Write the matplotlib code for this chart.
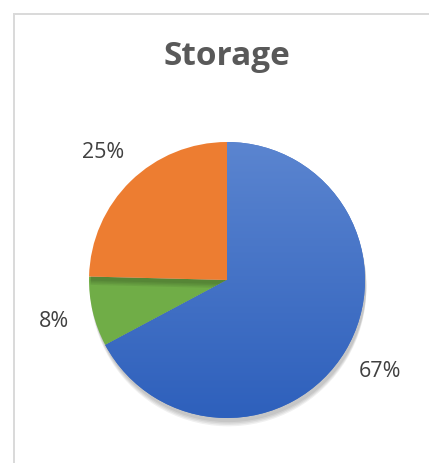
import numpy as np
import matplotlib
matplotlib.use("Agg")
import matplotlib.pyplot as plt
from matplotlib.patches import Rectangle
import matplotlib.patheffects as pe

title = "Storage"
categories = ["Blue", "Green", "Orange"]
values = [67.2, 8.2, 24.6]
colors = ["#4472C4", "#70AD47", "#ED7D31"]

W, H, DPI = 429, 463, 100
fig = plt.figure(figsize=(W / DPI, H / DPI), dpi=DPI)
fig.patch.set_facecolor("white")

# chart border (only left/top visible)
fig.patches.append(Rectangle((13.5 / W, -0.2), 1.2, (463 - 13.5) / H + 0.2,
                             transform=fig.transFigure, fill=False,
                             edgecolor="#D9D9D9", linewidth=1.4))

fig.text(227 / W, (H - 65) / H, title, ha="center", va="baseline",
         fontsize=24, fontweight="bold", color="#595959", family="Open Sans")

cx, cy, R = 227, 280, 138
k = 1.45
ax = fig.add_axes([(cx - R * k) / W, (H - cy - R * k) / H, 2 * R * k / W, 2 * R * k / H])

shadow = [pe.SimplePatchShadow(offset=(1, -3 - i), shadow_rgbFace="black", alpha=0.06) for i in range(4)]

wedges, texts, autotexts = ax.pie(
    values, colors=colors, startangle=90, counterclock=False,
    autopct="%.0f%%", pctdistance=1.29, radius=1,
    wedgeprops=dict(linewidth=0),
    textprops=dict(fontsize=15.5, color="#404040", family="Open Sans"))

ax.set_aspect("equal")
ax.axis("off")

# soft shadow behind pie
for w in wedges:
    w.set_path_effects(shadow + [pe.Normal()])

# gradient on blue wedge
grad = np.linspace(0, 1, 256).reshape(-1, 1)
top = np.array([0x5B, 0x85, 0xD0]) / 255
bot = np.array([0x2E, 0x60, 0xBC]) / 255
img = top[None, None, :] * (1 - grad[..., None]) + bot[None, None, :] * grad[..., None]
im = ax.imshow(img, extent=(-1, 1, -1, 1), origin="upper", zorder=wedges[0].get_zorder() + 0.1,
               aspect="auto")
im.set_clip_path(wedges[0])
ax.set_xlim(-k, k)
ax.set_ylim(-k, k)

fig.savefig("out.png", dpi=DPI, facecolor="white")
